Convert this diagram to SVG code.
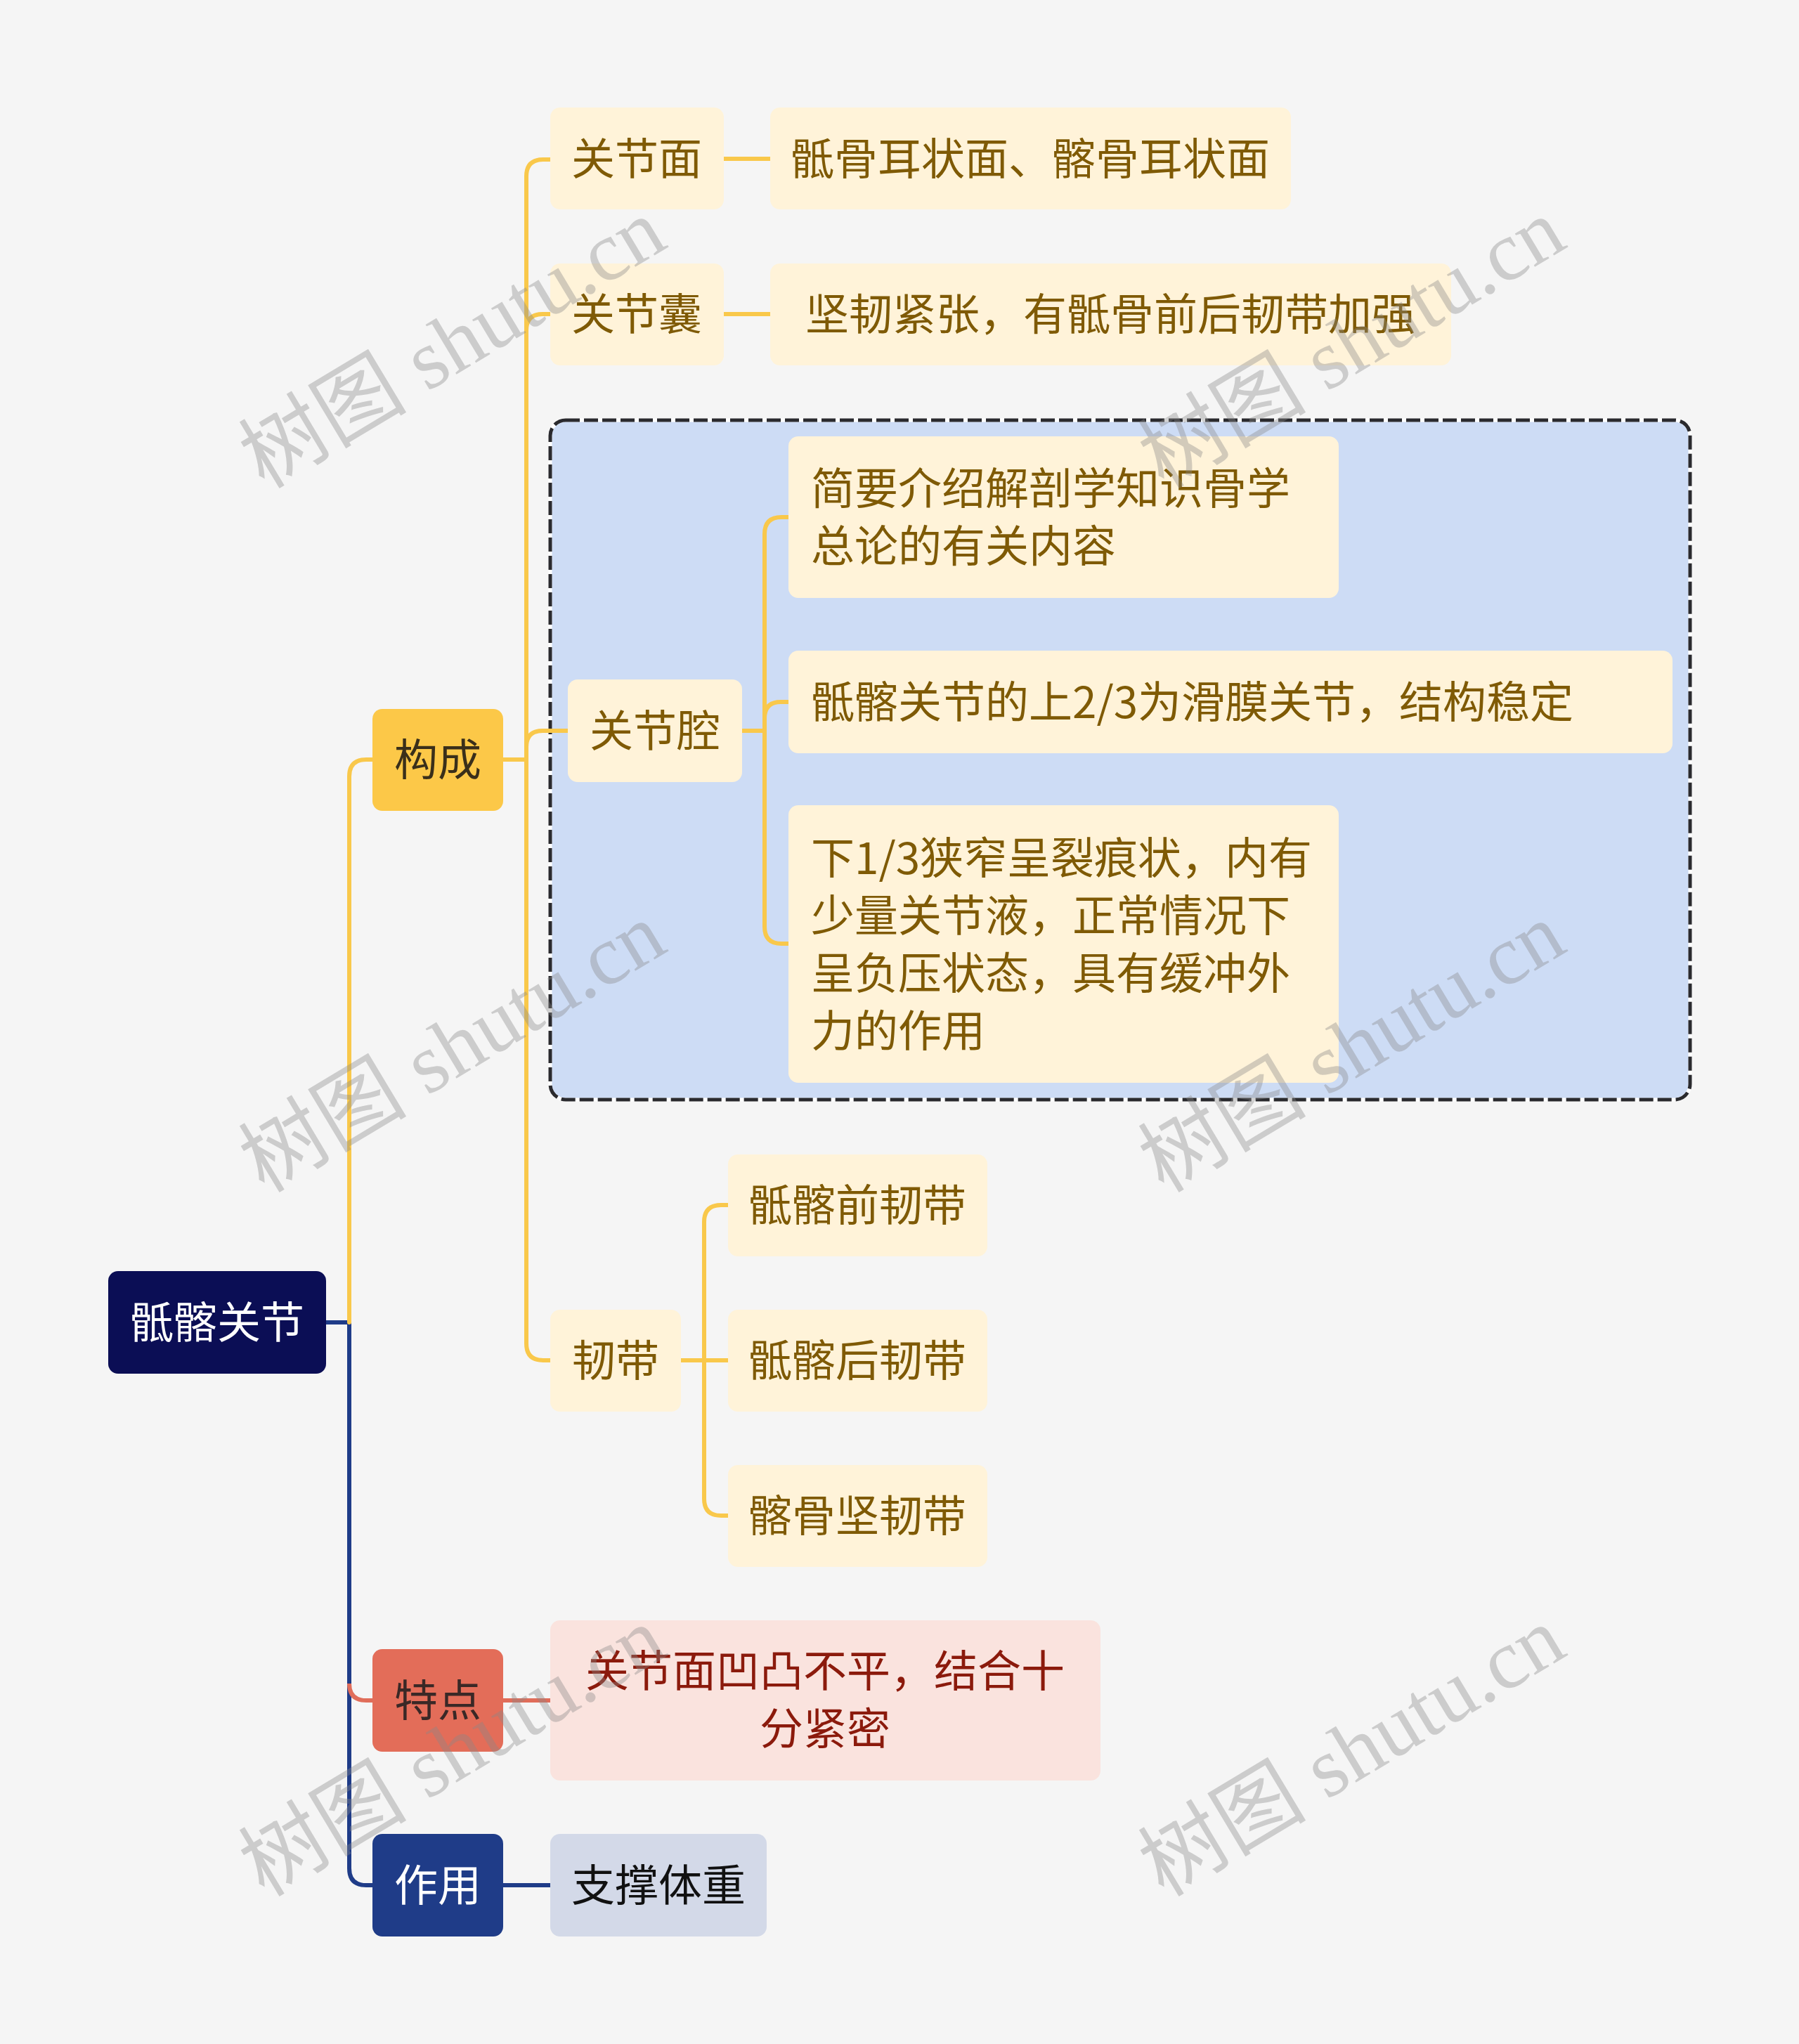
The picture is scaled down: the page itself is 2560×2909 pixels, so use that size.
<svg xmlns="http://www.w3.org/2000/svg" width="2560" height="2909" viewBox="0 0 2560 2909">
<style>
.t{font-family:"Noto Sans CJK SC","Noto Sans",sans-serif;font-size:62px}
.cream{fill:#fff3d9}
.ct{fill:#7f5a05}
.y{fill:none;stroke:#f9c84b;stroke-width:6;stroke-linecap:round}
.b{fill:none;stroke:#1f3c88;stroke-width:6}
.r{fill:none;stroke:#e06d5a;stroke-width:6}
.wm{font-family:"Liberation Serif","Noto Sans CJK SC",serif;font-size:120px;fill:#8a8a8a;fill-opacity:0.38}
</style>
<rect x="0" y="0" width="2560" height="2909" fill="#f5f5f5"/>
<g id="group-box">
<rect x="783" y="598" width="1622" height="967" rx="22" fill="#cddcf5" stroke="#ffffff" stroke-width="5"/>
<rect x="783" y="598" width="1622" height="967" rx="22" fill="none" stroke="#2a2a2e" stroke-width="5" stroke-dasharray="20 6"/>
</g>
<g id="connectors">
<path class="b" d="M464,1882 H497 V2659 Q497,2683 521,2683 H530"/>
<path class="y" d="M497,1882 V1105 Q497,1081 521,1081 H530"/>
<path class="r" d="M497,2396 Q497,2420 521,2420 H530"/>
<path class="r" d="M716,2420 H783"/>
<path class="b" d="M716,2683 H783"/>
<path class="y" d="M716,1081 H749"/>
<path class="y" d="M783,227 H773 Q749,227 749,251 V1912 Q749,1936 773,1936 H783"/>
<path class="y" d="M749,470 Q749,447 772,447 H783"/>
<path class="y" d="M749,1063 Q749,1040 772,1040 H808"/>
<path class="y" d="M1030,226 H1096"/>
<path class="y" d="M1030,447 H1096"/>
<path class="y" d="M1056,1040 H1088"/>
<path class="y" d="M1122,736 H1112 Q1088,736 1088,760 V1319 Q1088,1343 1112,1343 H1122"/>
<path class="y" d="M1088,1022 Q1088,999 1111,999 H1122"/>
<path class="y" d="M969,1936 H1036"/>
<path class="y" d="M1036,1715 H1026 Q1002,1715 1002,1739 V2133 Q1002,2157 1026,2157 H1036"/>
</g>
<g id="root">
<rect x="154" y="1809" width="310" height="146" rx="14" fill="#0b0e55"/>
<text class="t" x="309" y="1905" text-anchor="middle" fill="#ffffff">骶髂关节</text>
</g>
<g id="goucheng">
<rect x="530" y="1009" width="186" height="145" rx="14" fill="#fcc848"/>
<text class="t" x="623" y="1104" text-anchor="middle" fill="#3a2f1a">构成</text>
</g>
<g id="guanjiemian">
<rect class="cream" x="783" y="153" width="247" height="145" rx="14"/>
<text class="t ct" x="906" y="249" text-anchor="middle">关节面</text>
</g>
<g id="guanjiemian-c">
<rect class="cream" x="1096" y="153" width="741" height="145" rx="14"/>
<text class="t ct" x="1466" y="249" text-anchor="middle">骶骨耳状面、髂骨耳状面</text>
</g>
<g id="guanjienang">
<rect class="cream" x="783" y="375" width="247" height="145" rx="14"/>
<text class="t ct" x="906" y="470" text-anchor="middle">关节囊</text>
</g>
<g id="guanjienang-c">
<rect class="cream" x="1096" y="375" width="969" height="145" rx="14"/>
<text class="t ct" x="1580" y="470" text-anchor="middle">坚韧紧张，有骶骨前后韧带加强</text>
</g>
<g id="guanjieqiang">
<rect class="cream" x="808" y="967" width="248" height="146" rx="14"/>
<text class="t ct" x="932" y="1063" text-anchor="middle">关节腔</text>
</g>
<g id="qiang-1">
<rect class="cream" x="1122" y="621" width="783" height="230" rx="14"/>
<text class="t ct" x="1154" y="718">简要介绍解剖学知识骨学</text>
<text class="t ct" x="1154" y="800">总论的有关内容</text>
</g>
<g id="qiang-2">
<rect class="cream" x="1122" y="926" width="1258" height="146" rx="14"/>
<text class="t ct" x="1154" y="1022">骶髂关节的上2/3为滑膜关节，结构稳定</text>
</g>
<g id="qiang-3">
<rect class="cream" x="1122" y="1146" width="783" height="395" rx="14"/>
<text class="t ct" x="1154" y="1244">下1/3狭窄呈裂痕状，内有</text>
<text class="t ct" x="1154" y="1326">少量关节液，正常情况下</text>
<text class="t ct" x="1154" y="1408">呈负压状态，具有缓冲外</text>
<text class="t ct" x="1154" y="1490">力的作用</text>
</g>
<g id="rendai">
<rect class="cream" x="783" y="1864" width="186" height="145" rx="14"/>
<text class="t ct" x="876" y="1959" text-anchor="middle">韧带</text>
</g>
<g id="rendai-1">
<rect class="cream" x="1036" y="1643" width="369" height="145" rx="14"/>
<text class="t ct" x="1220" y="1738" text-anchor="middle">骶髂前韧带</text>
</g>
<g id="rendai-2">
<rect class="cream" x="1036" y="1864" width="369" height="145" rx="14"/>
<text class="t ct" x="1220" y="1959" text-anchor="middle">骶髂后韧带</text>
</g>
<g id="rendai-3">
<rect class="cream" x="1036" y="2085" width="369" height="145" rx="14"/>
<text class="t ct" x="1220" y="2180" text-anchor="middle">髂骨坚韧带</text>
</g>
<g id="tedian">
<rect x="530" y="2347" width="186" height="146" rx="14" fill="#e36d59"/>
<text class="t" x="623" y="2443" text-anchor="middle" fill="#3a2826">特点</text>
</g>
<g id="tedian-c">
<rect x="783" y="2306" width="783" height="228" rx="14" fill="#fae3de"/>
<text class="t" x="1174" y="2401" text-anchor="middle" fill="#8b1a0c">关节面凹凸不平，结合十</text>
<text class="t" x="1174" y="2483" text-anchor="middle" fill="#8b1a0c">分紧密</text>
</g>
<g id="zuoyong">
<rect x="530" y="2610" width="186" height="146" rx="14" fill="#1f3c88"/>
<text class="t" x="623" y="2706" text-anchor="middle" fill="#ffffff">作用</text>
</g>
<g id="zuoyong-c">
<rect x="783" y="2610" width="308" height="146" rx="14" fill="#d3d9e8"/>
<text class="t" x="937" y="2706" text-anchor="middle" fill="#111111">支撑体重</text>
</g>
<g id="watermarks">
<text class="wm" x="376" y="697" transform="rotate(-31 376 697)">树图 shutu.cn</text>
<text class="wm" x="1656" y="697" transform="rotate(-31 1656 697)">树图 shutu.cn</text>
<text class="wm" x="376" y="1699" transform="rotate(-31 376 1699)">树图 shutu.cn</text>
<text class="wm" x="1656" y="1699" transform="rotate(-31 1656 1699)">树图 shutu.cn</text>
<text class="wm" x="376" y="2701" transform="rotate(-31 376 2701)">树图 shutu.cn</text>
<text class="wm" x="1656" y="2701" transform="rotate(-31 1656 2701)">树图 shutu.cn</text>
</g>
</svg>
